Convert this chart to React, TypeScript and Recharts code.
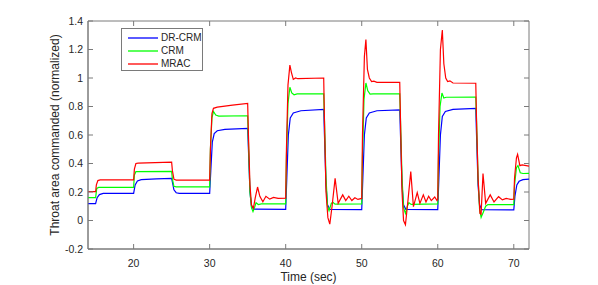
import React from 'react';
import { LineChart, Line, XAxis, YAxis, ReferenceArea } from 'recharts';

// time (s) / normalized throat area
const drCrm: [number, number][] = [
  [14, 0.118], [15, 0.118], [15.2, 0.16], [15.5, 0.182], [16, 0.19], [20, 0.19],
  [20.2, 0.25], [20.5, 0.278], [21, 0.287], [23, 0.292], [25, 0.295],
  [25.1, 0.27], [25.3, 0.215], [25.6, 0.195], [26, 0.19], [30, 0.19],
  [30.15, 0.35], [30.35, 0.55], [30.6, 0.61], [31, 0.63], [32, 0.64], [35, 0.647],
  [35.1, 0.5], [35.3, 0.2], [35.5, 0.1], [35.8, 0.08], [40, 0.078],
  [40.15, 0.3], [40.35, 0.6], [40.6, 0.72], [41, 0.755], [42, 0.77], [45, 0.78],
  [45.1, 0.6], [45.3, 0.25], [45.5, 0.11], [45.8, 0.078], [50, 0.076],
  [50.15, 0.3], [50.35, 0.6], [50.6, 0.72], [51, 0.755], [52, 0.77], [55, 0.777],
  [55.1, 0.6], [55.3, 0.25], [55.5, 0.11], [55.8, 0.078], [60, 0.076],
  [60.15, 0.3], [60.35, 0.6], [60.6, 0.73], [61, 0.765], [62, 0.78], [65, 0.787],
  [65.1, 0.6], [65.3, 0.25], [65.5, 0.11], [65.8, 0.076], [70, 0.074],
  [70.15, 0.17], [70.4, 0.25], [70.7, 0.275], [71.2, 0.287], [72, 0.29],
];

const crm: [number, number][] = [
  [14, 0.16], [15, 0.16], [15.15, 0.225], [15.4, 0.232], [20, 0.233],
  [20.1, 0.32], [20.3, 0.343], [25, 0.345],
  [25.1, 0.29], [25.3, 0.24], [25.6, 0.236], [30, 0.236],
  [30.1, 0.5], [30.3, 0.72], [30.5, 0.765], [30.8, 0.74], [31.2, 0.733], [35, 0.735],
  [35.1, 0.55], [35.3, 0.2], [35.5, 0.09], [35.7, 0.062], [35.9, 0.09], [36.1, 0.125],
  [36.4, 0.112], [36.8, 0.116], [40, 0.116],
  [40.1, 0.45], [40.3, 0.82], [40.55, 0.935], [40.8, 0.895], [41.1, 0.882], [41.5, 0.888], [45, 0.888],
  [45.1, 0.7], [45.3, 0.3], [45.5, 0.1], [45.7, 0.068], [46.0, 0.12], [46.2, 0.128],
  [46.5, 0.115], [50, 0.116],
  [50.1, 0.45], [50.3, 0.85], [50.55, 0.965], [50.8, 0.91], [51.1, 0.887], [51.5, 0.888], [55, 0.888],
  [55.1, 0.7], [55.3, 0.3], [55.5, 0.09], [55.75, 0.05], [56.0, 0.1], [56.2, 0.125],
  [56.5, 0.113], [60, 0.116],
  [60.1, 0.45], [60.3, 0.8], [60.55, 0.895], [60.8, 0.86], [61.1, 0.865], [65, 0.866],
  [65.1, 0.7], [65.3, 0.3], [65.5, 0.08], [65.7, 0.022], [66.0, 0.06], [66.3, 0.1],
  [66.6, 0.112], [70, 0.112],
  [70.1, 0.25], [70.35, 0.37], [70.55, 0.385], [70.85, 0.335], [71.2, 0.33], [72, 0.331],
];

const mrac: [number, number][] = [
  [14, 0.202], [15, 0.202], [15.1, 0.25], [15.3, 0.28], [15.6, 0.285], [20, 0.285],
  [20.1, 0.36], [20.3, 0.4], [20.6, 0.403], [25, 0.41],
  [25.1, 0.35], [25.3, 0.29], [25.6, 0.283], [30, 0.283],
  [30.1, 0.5], [30.3, 0.75], [30.5, 0.787], [31, 0.795], [33, 0.81], [35, 0.822],
  [35.1, 0.6], [35.3, 0.25], [35.5, 0.11], [35.75, 0.086], [36.0, 0.16], [36.3, 0.235],
  [36.6, 0.17], [37.0, 0.132], [37.4, 0.17], [37.9, 0.15], [38.4, 0.162], [39, 0.155], [40, 0.156],
  [40.1, 0.5], [40.3, 0.95], [40.55, 1.09], [40.75, 1.04], [41.0, 0.99], [41.3, 1.0],
  [41.6, 0.995], [45, 1.0],
  [45.1, 0.7], [45.3, 0.2], [45.55, 0.02], [45.8, -0.025], [46.1, 0.1], [46.5, 0.296],
  [46.9, 0.12], [47.5, 0.18], [47.9, 0.14], [48.3, 0.17], [48.7, 0.14], [49.1, 0.16],
  [49.5, 0.148], [50, 0.155],
  [50.1, 0.6], [50.35, 1.15], [50.55, 1.27], [50.75, 1.06], [51.0, 1.0], [51.3, 0.975],
  [51.6, 0.978], [52, 0.97], [55, 0.97],
  [55.1, 0.7], [55.3, 0.2], [55.5, 0.0], [55.75, -0.03], [56.1, 0.15], [56.45, 0.343],
  [56.8, 0.097], [57.3, 0.195], [57.65, 0.12], [58.1, 0.18], [58.45, 0.13], [58.8, 0.17],
  [59.15, 0.14], [59.6, 0.165], [59.9, 0.14], [60, 0.15],
  [60.1, 0.6], [60.35, 1.2], [60.6, 1.337], [60.8, 1.1], [61.05, 1.0], [61.3, 0.975],
  [61.6, 0.98], [62, 0.965], [65, 0.963],
  [65.1, 0.7], [65.3, 0.3], [65.55, 0.05], [65.7, 0.045], [65.95, 0.33], [66.3, 0.12],
  [66.9, 0.18], [67.4, 0.13], [68, 0.167], [68.5, 0.145], [69, 0.155], [69.6, 0.148], [70, 0.15],
  [70.1, 0.3], [70.35, 0.44], [70.5, 0.464], [70.8, 0.385], [71.1, 0.39], [72, 0.382],
];

const xTicks = [20, 30, 40, 50, 60, 70];
const yTicks = [-0.2, 0, 0.2, 0.4, 0.6, 0.8, 1, 1.2, 1.4];

const series = [
  { name: 'DR-CRM', color: '#0000ff', points: drCrm },
  { name: 'CRM', color: '#00ff00', points: crm },
  { name: 'MRAC', color: '#ff0000', points: mrac },
];

const FONT = '"Liberation Sans", Arial, sans-serif';
const AXIS = '#7a7a7a';
const TEXT = '#262626';
// plot box in pixels (follows from the chart margins / axis sizes below)
const PLOT = { left: 88, right: 529, top: 21, bottom: 249 };
const TICK_LEN = 5;

const toPoints = (pts: [number, number][]) => pts.map(([t, v]) => ({ t, v }));

// MATLAB-style ticks: pointing inward, on both sides of the box
function XTick(props: any) {
  const { x, payload } = props;
  return (
    <g>
      <line x1={x} x2={x} y1={PLOT.bottom} y2={PLOT.bottom - TICK_LEN} stroke={AXIS} />
      <line x1={x} x2={x} y1={PLOT.top} y2={PLOT.top + TICK_LEN} stroke={AXIS} />
      <text x={x} y={266.5} textAnchor="middle" fill={TEXT} fontSize={10.5} fontFamily={FONT}>
        {payload.value}
      </text>
    </g>
  );
}

function YTick(props: any) {
  const { y, payload } = props;
  return (
    <g>
      <line x1={PLOT.left} x2={PLOT.left + TICK_LEN} y1={y} y2={y} stroke={AXIS} />
      <line x1={PLOT.right} x2={PLOT.right - TICK_LEN} y1={y} y2={y} stroke={AXIS} />
      <text x={PLOT.left - 5} y={y} dy="0.35em" textAnchor="end" fill={TEXT} fontSize={10.5} fontFamily={FONT}>
        {String(payload.value)}
      </text>
    </g>
  );
}

function LegendBox() {
  return (
    <div
      style={{
        position: 'absolute',
        left: 121,
        top: 28,
        width: 82,
        height: 43,
        border: `1px solid ${AXIS}`,
        background: '#fff',
        fontFamily: FONT,
        fontSize: 10,
        color: TEXT,
        boxSizing: 'border-box',
        paddingTop: 2,
        whiteSpace: 'nowrap',
      }}
    >
      {series.map((s) => (
        <div key={s.name} style={{ display: 'flex', alignItems: 'center', height: 13 }}>
          <svg width={33} height={4} style={{ marginLeft: 6, flexShrink: 0 }}>
            <line x1={0} y1={2} x2={30} y2={2} stroke={s.color} strokeWidth={1.3} />
          </svg>
          <span>{s.name}</span>
        </div>
      ))}
    </div>
  );
}

export default function App() {
  return (
    <div style={{ position: 'absolute', left: 0, top: 0, width: 598, height: 285, background: '#fff' }}>
      <LineChart width={598} height={285} margin={{ top: 21, right: 69, bottom: 0, left: 28 }}>
        <XAxis
          dataKey="t"
          type="number"
          domain={[14, 72]}
          ticks={xTicks}
          allowDataOverflow
          height={36}
          tickLine={false}
          stroke={AXIS}
          tick={<XTick />}
          label={{ value: 'Time (sec)', position: 'insideBottom', offset: 4, fill: TEXT, fontSize: 12, fontFamily: FONT }}
        />
        <YAxis
          type="number"
          domain={[-0.2, 1.4]}
          ticks={yTicks}
          allowDataOverflow
          width={60}
          tickLine={false}
          stroke={AXIS}
          tick={<YTick />}
          label={{
            value: 'Throat area commanded (normalized)',
            angle: -90,
            position: 'center',
            dx: -3,
            fill: TEXT,
            fontSize: 12,
            fontFamily: FONT,
          }}
        />
        <ReferenceArea x1={14} x2={72} y1={-0.2} y2={1.4} fill="none" stroke={AXIS} strokeWidth={1} />
        {series.map((s) => (
          <Line
            key={s.name}
            data={toPoints(s.points)}
            dataKey="v"
            name={s.name}
            type="linear"
            stroke={s.color}
            strokeWidth={1.2}
            dot={false}
            activeDot={false}
            isAnimationActive={false}
          />
        ))}
      </LineChart>
      <LegendBox />
    </div>
  );
}
